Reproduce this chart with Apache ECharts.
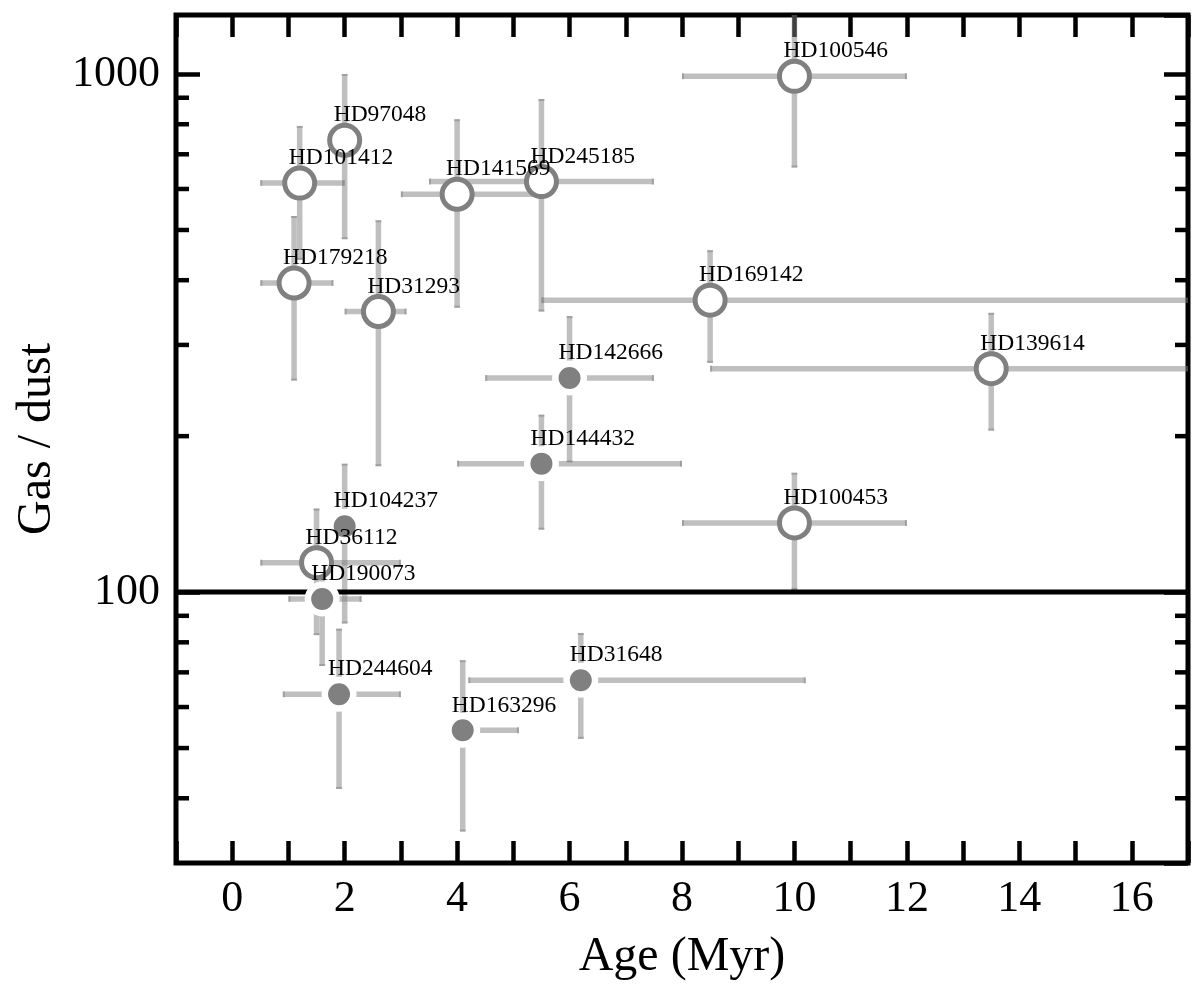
<!DOCTYPE html>
<html><head><meta charset="utf-8">
<script src="https://cdn.jsdelivr.net/npm/echarts@6/dist/echarts.min.js"></script>
<style>html,body{margin:0;padding:0;background:#fff}#c{width:1200px;height:989px}</style>
</head><body><div id="c"></div>
<script>
// ---- data ----
const names = ['HD100546','HD97048','HD101412','HD141569','HD245185','HD179218','HD31293','HD169142','HD139614','HD100453','HD36112','HD142666','HD144432','HD104237','HD190073','HD244604','HD31648','HD163296'];
const age = [10, 2.0, 1.2, 4.0, 5.5, 1.1, 2.6, 8.5, 13.5, 10, 1.5, 6.0, 5.5, 2.0, 1.6, 1.9, 6.2, 4.1];
const ageLow = [8, 2.0, 0.5, 3.0, 3.5, 0.5, 2.0, 5.5, 8.5, 8, 0.5, 4.5, 4.0, 2.0, 1.0, 0.9, 4.2, 4.1];
const ageHigh = [12, 2.0, 2.0, 5.5, 7.5, 1.8, 3.1, 20, 20, 12, 3.0, 7.5, 8.0, 2.0, 2.3, 3.0, 10.2, 5.1];
const gasDust = [990, 745, 616, 586, 620, 395, 348, 366, 270, 136, 114, 259, 177, 134, 97, 63.5, 67.6, 54.1];
const gasDustLow = [660, 480, 438, 354, 348, 256, 175, 277, 205, 101, 82.6, 178, 132, 87, 72, 41.7, 52.1, 34.5];
const gasDustHigh = [1500, 1000, 794, 818, 895, 532, 522, 457, 346, 170, 145, 341, 220, 177, 115, 85, 83.4, 73.9];
const openSymbol = [1,1,1,1,1,1,1,1,1,1,1,0,0,0,0,0,0,0];
const yMinorTicks = [40,50,60,70,80,90,200,300,400,500,600,700,800,900];
const refLevel = 100;
const xMin = -1, xMax = 17, yMin = 30, yMax = 1300;

const FONT = 'Liberation Serif';
const ERR = 'rgba(128,128,128,0.5)';

const errData = names.map((n, i) => [age[i], gasDust[i], ageLow[i], ageHigh[i], gasDustLow[i], gasDustHigh[i]]);
const openData = names.map((n, i) => ({name: n, value: [age[i], gasDust[i]]})).filter((d, i) => openSymbol[i]);
const fillData = names.map((n, i) => ({name: n, value: [age[i], gasDust[i]]})).filter((d, i) => !openSymbol[i]);
const labelData = names.map((n, i) => ({name: n, value: [age[i], gasDust[i]]}));

const chart = echarts.init(document.getElementById('c'), null, {renderer: 'canvas'});

function seg(p1, p2, w) {
  return {type: 'line', shape: {x1: p1[0], y1: p1[1], x2: p2[0], y2: p2[1]},
          style: {stroke: ERR, lineWidth: w, lineCap: 'butt'}};
}

const axisCommonX = {
  type: 'value', min: xMin, max: xMax, interval: 1,
  axisLine: {show: false, onZero: false},
  axisTick: {show: true, inside: true, length: 22, lineStyle: {color: '#000', width: 4.5}},
  splitLine: {show: false}
};
const axisCommonY = {
  type: 'log', logBase: 10, min: yMin, max: yMax,
  axisLine: {show: false, onZero: false},
  axisTick: {show: true, inside: true, length: 24, lineStyle: {color: '#000', width: 4.5}},
  splitLine: {show: false}, minorTick: {show: false}
};

chart.setOption({
  animation: false,
  backgroundColor: '#fff',
  grid: {left: 176, right: 12, top: 15, bottom: 126, show: true, borderColor: '#000', borderWidth: 5, backgroundColor: 'transparent'},
  xAxis: [
    Object.assign({}, axisCommonX, {
      position: 'bottom',
      axisLabel: {formatter: v => (Math.round(v) % 2 === 0 ? String(Math.round(v)) : ''), fontFamily: FONT, fontSize: 44, color: '#000', margin: 14},
      name: 'Age (Myr)', nameLocation: 'middle', nameGap: 70,
      nameTextStyle: {fontFamily: FONT, fontSize: 48, color: '#000'}
    }),
    Object.assign({}, axisCommonX, {position: 'top', axisLabel: {show: false}})
  ],
  yAxis: [
    Object.assign({}, axisCommonY, {
      position: 'left',
      axisLabel: {formatter: v => String(Math.round(v)), showMinLabel: false, showMaxLabel: false, fontFamily: FONT, fontSize: 44, color: '#000', margin: 16},
      name: 'Gas / dust', nameLocation: 'middle', nameGap: 114, nameRotate: 90,
      nameTextStyle: {fontFamily: FONT, fontSize: 48, color: '#000'}
    }),
    Object.assign({}, axisCommonY, {position: 'right', axisLabel: {show: false}})
  ],
  series: [
    { // error bars
      type: 'custom', z: 1, clip: true, silent: true,
      xAxisIndex: 0, yAxisIndex: 0,
      data: errData,
      encode: {x: 0, y: 1},
      renderItem: function (params, api) {
        const x = api.value(0), y = api.value(1);
        const xl = api.value(2), xh = api.value(3), yl = api.value(4), yh = api.value(5);
        const ch = [];
        const w = 5.5, cap = 3;
        if (xh > xl) {
          const a = api.coord([xl, y]), b = api.coord([xh, y]);
          ch.push(seg(a, b, w));
          ch.push(seg([a[0] + 1, a[1] - cap], [a[0] + 1, a[1] + cap], 2));
          ch.push(seg([b[0] - 1, b[1] - cap], [b[0] - 1, b[1] + cap], 2));
        }
        if (yh > yl) {
          const a = api.coord([x, yl]), b = api.coord([x, yh]);
          ch.push(seg(a, b, w));
          ch.push(seg([a[0] - cap, a[1] - 1], [a[0] + cap, a[1] - 1], 2));
          ch.push(seg([b[0] - cap, b[1] + 1], [b[0] + cap, b[1] + 1], 2));
        }
        return {type: 'group', children: ch};
      }
    },
    { // reference line at 100
      type: 'custom', z: 2, silent: true,
      data: [[xMin, refLevel]],
      encode: {x: 0, y: 1},
      renderItem: function (params, api) {
        const a = api.coord([xMin, api.value(1)]), b = api.coord([xMax, api.value(1)]);
        return {type: 'line', shape: {x1: a[0], y1: a[1], x2: b[0], y2: b[1]}, style: {stroke: '#000', lineWidth: 5}};
      }
    },
    { // minor ticks on the log axis (left and right)
      type: 'custom', z: 2, silent: true,
      data: yMinorTicks.map(v => [xMin, v]),
      encode: {x: 0, y: 1},
      renderItem: function (params, api) {
        const l = api.coord([xMin, api.value(1)]), r = api.coord([xMax, api.value(1)]);
        const st = {stroke: '#000', lineWidth: 4.5};
        return {type: 'group', children: [
          {type: 'line', shape: {x1: l[0], y1: l[1], x2: l[0] + 13, y2: l[1]}, style: st},
          {type: 'line', shape: {x1: r[0] - 13, y1: r[1], x2: r[0], y2: r[1]}, style: st}
        ]};
      }
    },
    {
      type: 'scatter', z: 3, silent: true, name: 'open',
      data: openData, symbol: 'circle', symbolSize: 30,
      itemStyle: {color: '#fff', borderColor: '#808080', borderWidth: 5, opacity: 1}
    },
    {
      type: 'scatter', z: 3, silent: true, name: 'filled',
      data: fillData, symbol: 'circle', symbolSize: 28.5,
      itemStyle: {color: '#808080', borderColor: '#fff', borderWidth: 6.5, opacity: 1}
    },
    { // star names
      type: 'custom', z: 5, silent: true,
      data: labelData,
      encode: {x: 0, y: 1},
      renderItem: function (params, api) {
        const c = api.coord([api.value(0), api.value(1)]);
        return {type: 'text', x: c[0] - 11, y: c[1] - 25,
          style: {text: names[params.dataIndex], fontFamily: FONT, fontSize: 23.5, fill: '#000', align: 'left', verticalAlign: 'middle'}};
      }
    }
  ]
});
</script>
</body></html>
